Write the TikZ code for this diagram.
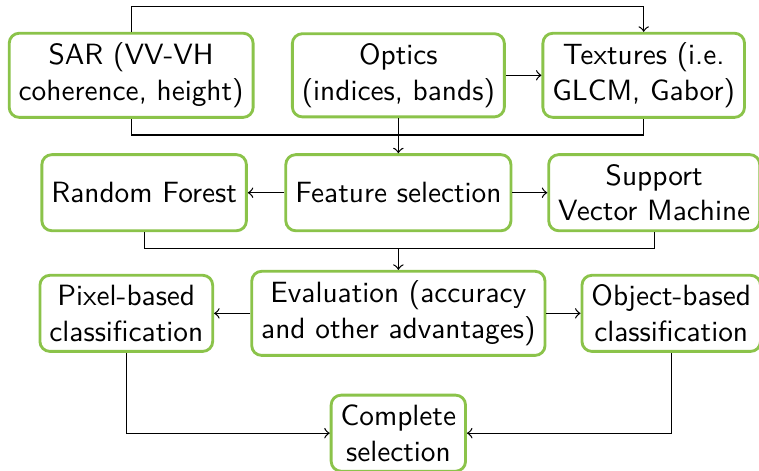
\documentclass[tikz,border=0pt]{standalone}
\usepackage{amsmath}
\usepackage{amssymb}
\usetikzlibrary{positioning}

\definecolor{stagegreen}{RGB}{139,195,74}
\tikzset{
  stage/.style={draw=stagegreen, line width=1pt, rounded corners=3.5pt, fill=white,
    align=center, font=\sffamily\fontsize{10.3}{12.6}\selectfont, minimum height=0.94cm},
  flow/.style={->, line width=0.45pt}
}

\begin{document}
\begin{tikzpicture}
  \useasboundingbox (0,0) rectangle (9.374,-5.805);

  % inputs
  \node[stage] (sar) at (1.62,-0.93) {SAR (VV-VH\\coherence, height)};
  \node[stage] (opt) at (4.92,-0.93) {Optics\\(indices, bands)};
  \node[stage] (tex) at (7.95,-0.93) {Textures (i.e.\\GLCM, Gabor)};

  % features and classifiers
  \node[stage] (rf)  at (1.78,-2.38) {Random Forest};
  \node[stage] (fs)  at (4.92,-2.38) {Feature selection};
  \node[stage] (svm) at (8.08,-2.38) {Support\\Vector Machine};

  % evaluation
  \node[stage] (pix) at (1.56,-3.87) {Pixel-based\\classification};
  \node[stage] (ev)  at (4.92,-3.87) {Evaluation (accuracy\\and other advantages)};
  \node[stage] (obj) at (8.29,-3.87) {Object-based\\classification};
  \node[stage] (com) at (4.92,-5.35) {Complete\\selection};

  % SAR and optics into textures
  \draw[flow] (sar.north) -- ++(0,0.31) -| (tex.north);
  \draw[flow] (opt) -- (tex);
  \draw (sar.south) -- ++(0,-0.2) -| (tex.south);
  \draw[flow] (opt) -- (fs);

  % selection to classifiers
  \draw[flow] (fs) -- (rf);
  \draw[flow] (fs) -- (svm);
  \draw[flow] (fs.south) ++(0,-0.2) coordinate (join) -- (ev);
  \draw (rf.south) |- (join) -| (svm.south);

  % evaluation to classification
  \draw[flow] (ev) -- (pix);
  \draw[flow] (ev) -- (obj);
  \draw[flow] (pix.south) |- (com.west);
  \draw[flow] (obj.south) |- (com.east);
\end{tikzpicture}
\end{document}
